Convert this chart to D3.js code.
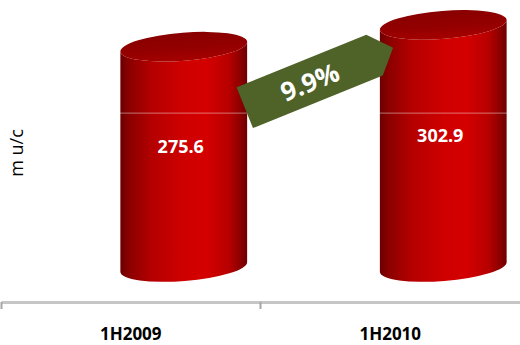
<!DOCTYPE html>
<html>
<head>
<meta charset="utf-8">
<script src="https://cdn.jsdelivr.net/npm/d3@7"></script>
<style>
  html, body { margin: 0; padding: 0; background: #fff; }
  svg { display: block; font-family: "Open Sans", "Liberation Sans", sans-serif; }
</style>
</head>
<body>
<svg id="chart" width="520" height="345"></svg>
<script>
// ---- data ----
const categories = ["1H2009", "1H2010"];
const values = [275.6, 302.9];
const gridValues = [200];
const yTitle = "m u/c";

// ---- layout ----
const W = 520, H = 345;
const svg = d3.select("#chart");
const defs = svg.append("defs");

const x = d3.scaleBand().domain(categories).range([1, 520]).paddingInner(0).paddingOuter(0);
const y = d3.scaleLinear().domain([0, 334]).range([267, 0]);

const depthShift = 53;   // 3D perspective offset of cylinders
const rxFrac = 0.245;
const ry = 14;
const tilt = -4.5;       // degrees
const gridDepth = 6;
const axisY = 302;

// gradients
const bodyGrad = defs.append("linearGradient").attr("id", "body").attr("x1", "0").attr("x2", "1").attr("y1", "0").attr("y2", "0");
[[0, "#6a0000"], [0.06, "#880000"], [0.25, "#b40000"], [0.5, "#cf0000"], [0.68, "#d40000"], [0.86, "#b60000"], [0.95, "#8a0000"], [1, "#6e0000"]]
  .forEach(([o, c]) => bodyGrad.append("stop").attr("offset", o).attr("stop-color", c));
const topGrad = defs.append("linearGradient").attr("id", "top").attr("x1", "0").attr("x2", "0").attr("y1", "0").attr("y2", "1");
[[0, "#880000"], [0.6, "#950000"], [1, "#a60000"]]
  .forEach(([o, c]) => topGrad.append("stop").attr("offset", o).attr("stop-color", c));

const th = tilt * Math.PI / 180;
function ePt(cx, cy, rx, t) {
  return [cx + rx * Math.cos(t) * Math.cos(th) - ry * Math.sin(t) * Math.sin(th),
          cy + rx * Math.cos(t) * Math.sin(th) + ry * Math.sin(t) * Math.cos(th)];
}

const rx = x.bandwidth() * rxFrac;
const bars = categories.map((c, i) => ({
  cat: c, v: values[i],
  cx: x(c) + x.bandwidth() / 2 + depthShift,
  yTop: y(values[i]), yBot: y(0)
}));

const g = svg.append("g");
bars.forEach(b => {
  const tl = ePt(b.cx, b.yTop, rx, Math.PI), tr = ePt(b.cx, b.yTop, rx, 0);
  const bl = ePt(b.cx, b.yBot, rx, Math.PI), br = ePt(b.cx, b.yBot, rx, 0);
  const path = `M${tl[0]},${tl[1]} L${bl[0]},${bl[1]} A${rx},${ry} ${tilt} 0 0 ${br[0]},${br[1]} L${tr[0]},${tr[1]} A${rx},${ry} ${tilt} 0 1 ${tl[0]},${tl[1]} Z`;
  g.append("path").attr("d", path).attr("fill", "url(#body)");
  g.append("ellipse").attr("cx", 0).attr("cy", 0).attr("rx", rx).attr("ry", ry)
    .attr("transform", `translate(${b.cx},${b.yTop}) rotate(${tilt})`)
    .attr("fill", "url(#top)");
});

// gridlines (light, visible on bars)
svg.append("g").selectAll("line").data(gridValues).join("line")
  .attr("x1", x.range()[0]).attr("x2", x.range()[1])
  .attr("y1", d => y(d) + gridDepth).attr("y2", d => y(d) + gridDepth)
  .attr("stroke", "#ffffff").attr("stroke-opacity", 0.45).attr("stroke-width", 1);

// value labels
svg.append("g").selectAll("text").data(bars).join("text")
  .attr("x", d => d.cx - 3)
  .attr("y", d => y(d.v / 2) - 11 + 7)
  .attr("text-anchor", "middle")
  .attr("fill", "#ffffff").attr("font-weight", "bold").attr("font-size", 18)
  .text(d => d3.format(".1f")(d.v));

// growth arrow
const growth = (values[1] / values[0] - 1);
const arrowAngle = -22;
const ax = (bars[0].cx + bars[1].cx) / 2 - 2;
const ay = bars[0].yTop + 34;
const aHalf = 22, aBack = -72, aFront = 68, aTip = 88;
const ag = svg.append("g").attr("transform", `translate(${ax},${ay}) rotate(${arrowAngle})`);
ag.append("polygon")
  .attr("points", [[aBack, -aHalf], [aFront, -aHalf], [aTip, 0], [aFront, aHalf], [aBack, aHalf]].map(p => p.join(",")).join(" "))
  .attr("fill", "#4f6228");
ag.append("text").attr("x", -2).attr("y", 10)
  .attr("text-anchor", "middle").attr("fill", "#ffffff")
  .attr("font-weight", "bold").attr("font-size", 26)
  .text(d3.format(".1%")(growth));

// x axis
const axisG = svg.append("g").attr("transform", `translate(0,${axisY})`)
  .call(d3.axisBottom(x).tickSize(0).tickSizeOuter(0));
axisG.select(".domain").attr("stroke", "#c6c6c6").attr("stroke-width", 3);
axisG.selectAll(".tick text")
  .attr("y", 38).attr("dy", 0)
  .attr("fill", "#000").attr("font-weight", "bold").attr("font-size", 17)
  .attr("font-family", "'Open Sans', sans-serif");
// boundary ticks
const bounds = [x.range()[0] + 0.5].concat(categories.slice(1).map(c => x(c)));
svg.append("g").selectAll("line").data(bounds).join("line")
  .attr("x1", d => d).attr("x2", d => d)
  .attr("y1", axisY).attr("y2", axisY + 7)
  .attr("stroke", "#a6a6a6").attr("stroke-width", 2);

// y title
svg.append("text")
  .attr("transform", `translate(23,153) rotate(-90)`)
  .attr("text-anchor", "middle")
  .attr("fill", "#000").attr("font-size", 18)
  .text(yTitle);
</script>
</body>
</html>
